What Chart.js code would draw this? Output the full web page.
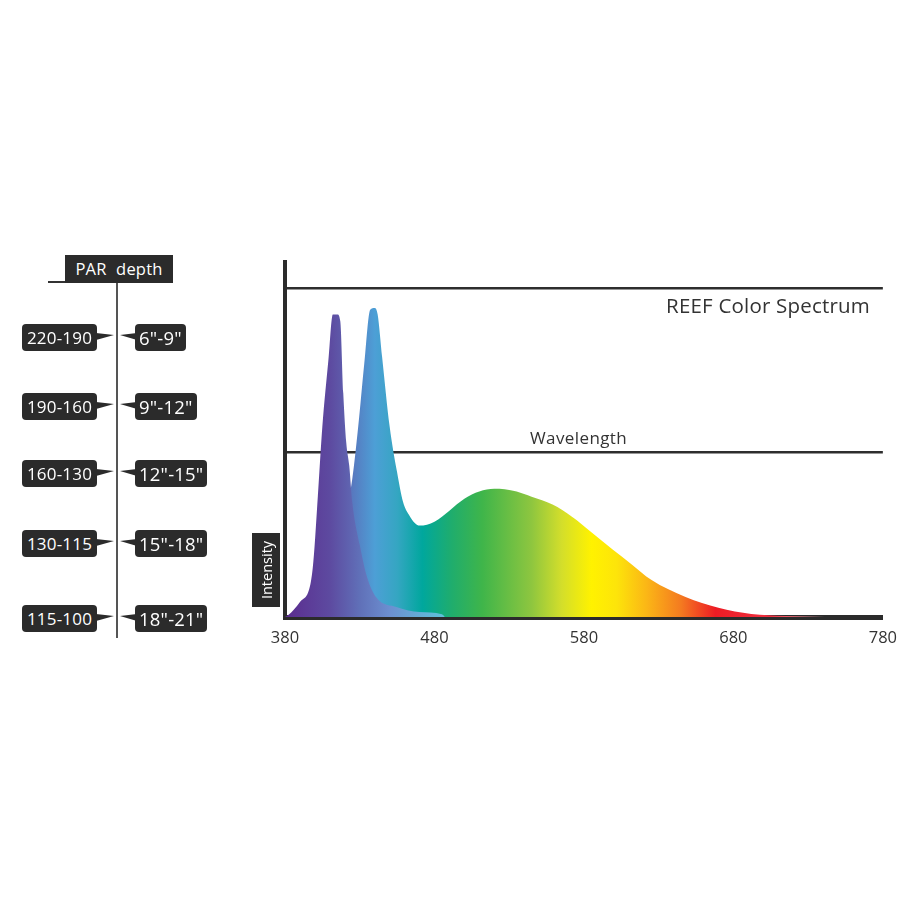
<!DOCTYPE html>
<html>
<head>
<meta charset="utf-8">
<title>REEF Color Spectrum</title>
<script src="https://cdn.jsdelivr.net/npm/chart.js@4/dist/chart.umd.min.js"></script>
<style>
  html, body { margin: 0; padding: 0; background: #fff; }
  body { width: 900px; height: 900px; position: relative; overflow: hidden; font-family: "Open Sans", sans-serif; }
  #wrap { position: absolute; left: 0; top: 0; width: 900px; height: 900px; }
  .tag { position: absolute; background: #2b2b2b; color: #fff; border-radius: 4px; height: 27px; line-height: 27px;
         font-size: 17px; letter-spacing: 0.2px; text-align: center; white-space: nowrap; }
  .label { position: absolute; color: #333; white-space: nowrap; }
</style>
</head>
<body>
<div id="wrap"><canvas id="spectrumChart" width="900" height="900"></canvas></div>
<svg id="table-lines" width="240" height="660" style="position:absolute;left:0;top:0"></svg>
<div id="table"></div>
<div class="label" style="right:30px;top:291px;font-size:20.5px;letter-spacing:0.2px">REEF Color Spectrum</div>
<div class="label" style="left:530px;top:426px;font-size:17px;letter-spacing:0.4px">Wavelength</div>
<div style="position:absolute;left:252px;top:533px;width:28px;height:74px;background:#2b2b2b">
  <div style="position:absolute;left:50%;top:50%;transform:translate(-50%,-50%) rotate(-90deg);color:#fff;font-size:14.5px;white-space:nowrap">Intensity</div>
</div>
<script>
// PAR / depth table
const PAR_RANGES = ['220-190', '190-160', '160-130', '130-115', '115-100'];
const DEPTHS = ['6"-9"', '9"-12"', '12"-15"', '15"-18"', '18"-21"'];

// x ticks (nm)
const X_TICKS = [380, 480, 580, 680, 780];

// main LED spectrum (blue peak + broad phosphor hump)
const MAIN_NM = [380, 390, 400, 410, 415, 420, 425, 429, 433, 437, 440, 442, 445, 450, 455, 459, 463, 467, 470, 475,
  480, 485, 490, 495, 500, 505, 510, 515, 520, 527, 535, 545, 559, 572, 585, 599, 612, 625, 648, 670, 692, 715, 741];
const MAIN_VAL = [0, 2, 6, 13, 20, 30, 42, 58, 77, 93.5, 94, 92, 79, 58, 44, 35, 31, 28.5, 27.8, 28.1,
  29, 30.5, 32.3, 34.3, 36, 37.3, 38.2, 38.8, 39, 38.9, 38.2, 36.6, 34.2, 30.5, 25.8, 20.6, 16, 11.3, 6.1, 2.8, 0.9, 0.3, 0];

// violet LED peak
const VIOLET_NM = [380, 382, 390, 397, 399, 402, 405, 409, 412, 415, 417, 419, 421, 423, 425, 430, 435, 441, 455, 470, 485, 487];
const VIOLET_VAL = [0, 0.5, 4.6, 10, 17, 37, 58, 78, 92, 92, 90, 68, 53, 46, 35, 22, 12, 6, 3, 1.5, 0.8, 0];

// gradient stops (nm -> colour)
const MAIN_STOPS = [[380, '#5a2d91'], [415, '#5f5eaf'], [440, '#4d9fd6'], [455, '#35a6c2'], [472, '#00a79d'],
  [492, '#20ad6c'], [512, '#3fb54a'], [545, '#8ec63f'], [565, '#d3de2b'], [585, '#fff200'], [602, '#fde40a'],
  [622, '#fbb616'], [645, '#f47a20'], [668, '#ed1c24'], [705, '#ee3040'], [740, '#f6b0b8']];
const VIOLET_STOPS = [[380, '#5b2c8f'], [410, '#5d4aa0'], [430, '#6070b8'], [450, '#6c8fd0'], [485, '#5fc0da']];

function toPoints(xs, ys) {
  return xs.map((x, i) => ({ x: x, y: ys[i] }));
}

function gradientFor(stops) {
  return (context) => {
    const chart = context.chart;
    if (!chart.chartArea) return null;
    const xs = chart.scales.x;
    const x0 = xs.getPixelForValue(380);
    const x1 = xs.getPixelForValue(780);
    const g = chart.ctx.createLinearGradient(x0, 0, x1, 0);
    stops.forEach(([nm, c]) => g.addColorStop((nm - 380) / 400, c));
    return g;
  };
}

// left table
function buildTable() {
  const table = document.getElementById('table');
  const svg = document.getElementById('table-lines');
  const rowY = [337, 406, 473, 543, 618];
  let lines = '<line x1="48" y1="282" x2="66" y2="282" stroke="#333" stroke-width="2"/>' +
    '<line x1="117" y1="283" x2="117" y2="638" stroke="#555" stroke-width="2"/>';

  const head = document.createElement('div');
  head.className = 'tag';
  head.style.cssText = 'left:65px;top:255px;width:108px;height:28px;line-height:28px;border-radius:0;font-size:16.5px;word-spacing:5px';
  head.textContent = 'PAR depth';
  table.appendChild(head);

  PAR_RANGES.forEach((par, i) => {
    const cy = rowY[i];
    const l = document.createElement('div');
    l.className = 'tag';
    l.style.left = '22px';
    l.style.width = '75px';
    l.style.top = (cy - 13.5) + 'px';
    l.textContent = par;
    table.appendChild(l);

    const r = document.createElement('div');
    r.className = 'tag';
    r.style.left = '135px';
    r.style.padding = '0 4px';
    r.style.top = (cy - 13.5) + 'px';
    r.style.fontSize = '18.5px';
    r.textContent = DEPTHS[i];
    table.appendChild(r);

    lines += `<polygon points="96,${cy - 4} 96,${cy + 3} 114,${cy - 2}" fill="#2b2b2b"/>`;
    lines += `<polygon points="120,${cy - 2} 137,${cy - 4} 137,${cy + 3}" fill="#2b2b2b"/>`;
  });
  svg.innerHTML = lines;
}

function initChart() {
  const ctx = document.getElementById('spectrumChart').getContext('2d');
  return new Chart(ctx, {
    type: 'line',
    data: {
      datasets: [
        { label: 'Violet', data: toPoints(VIOLET_NM, VIOLET_VAL), fill: 'origin', backgroundColor: gradientFor(VIOLET_STOPS),
          borderWidth: 0, pointRadius: 0, cubicInterpolationMode: 'monotone' },
        { label: 'Main', data: toPoints(MAIN_NM, MAIN_VAL), fill: 'origin', backgroundColor: gradientFor(MAIN_STOPS),
          borderWidth: 0, pointRadius: 0, cubicInterpolationMode: 'monotone' }
      ]
    },
    options: {
      responsive: false,
      animation: false,
      layout: { padding: { left: 285, right: 15, top: 262, bottom: 249 } },
      plugins: { legend: { display: false }, tooltip: { enabled: false } },
      scales: {
        x: {
          type: 'linear', min: 380, max: 780, z: 1,
          afterBuildTicks: (scale) => { scale.ticks = X_TICKS.map(v => ({ value: v })); },
          afterFit: (scale) => { scale.height = 34; },
          ticks: { color: '#333', padding: 3, font: { family: 'Open Sans', size: 16.5 }, maxRotation: 0 },
          grid: { display: false },
          border: { display: true, color: '#2b2b2b', width: 5 }
        },
        y: {
          min: 0, max: 108,
          afterBuildTicks: (scale) => { scale.ticks = [50, 100].map(v => ({ value: v })); },
          afterFit: (scale) => { scale.width = 0; },
          ticks: { display: false },
          grid: { color: '#2e2e2e', lineWidth: 2.5, drawTicks: false },
          border: { display: true, color: '#2b2b2b', width: 4 }
        }
      }
    }
  });
}

document.addEventListener('DOMContentLoaded', () => {
  buildTable();
  initChart();
});
</script>
</body>
</html>
